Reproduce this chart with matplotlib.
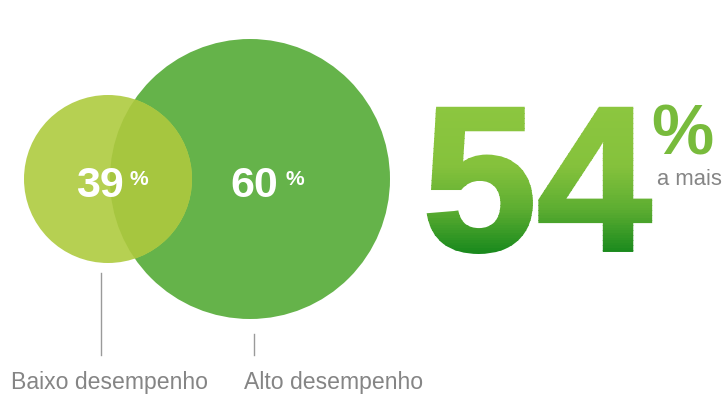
import numpy as np
import matplotlib
matplotlib.use("Agg")
import matplotlib.pyplot as plt
from matplotlib.patches import Circle, PathPatch, Rectangle
from matplotlib.textpath import TextPath
from matplotlib.font_manager import FontProperties
from matplotlib.colors import LinearSegmentedColormap
from matplotlib.transforms import Affine2D

# =========================
# DATA
# =========================
groups = ["Baixo desempenho", "Alto desempenho"]
shares = [39, 60]
difference = 54
diff_caption = "a mais"

# =========================
# STYLE
# =========================
W, H = 723, 406
FONT = "Liberation Sans"
COL_LOW = "#b6d052"
COL_HIGH = "#65b34a"
COL_OVERLAP = "#a6c63f"
COL_GRAY = "#858585"
COL_LINE = "#9a9a9a"


def px(v):
    # pixel size -> points (dpi 100)
    return v * 0.72


fig = plt.figure(figsize=(W / 100, H / 100), dpi=100)
ax = fig.add_axes([0, 0, 1, 1])
ax.set_xlim(0, W)
ax.set_ylim(H, 0)
ax.set_aspect("equal")
ax.axis("off")

# circles (centre x, centre y, radius) in pixels
circ_low = (108, 180, 84)
circ_high = (250, 180, 140)

ax.add_patch(Circle(circ_high[:2], circ_high[2], color=COL_HIGH, lw=0))
ax.add_patch(Circle(circ_low[:2], circ_low[2], color=COL_LOW, lw=0))

# overlap = small circle clipped by the big one
clip = Circle(circ_high[:2], circ_high[2], transform=ax.transData)
inter = Circle(circ_low[:2], circ_low[2], color=COL_OVERLAP, lw=0)
ax.add_patch(inter)
inter.set_clip_path(clip)

# values inside circles
for cx, pct_x, val in zip([100, 254], [129, 286], shares):
    ax.text(cx, 197, str(val), color="white", fontsize=px(43),
            fontweight="bold", family=FONT, ha="center", va="baseline")
    ax.text(pct_x, 185, "%", color="white", fontsize=px(21),
            fontweight="bold", family=FONT, ha="left", va="baseline")

# leader lines and labels
ax.plot([101, 101], [274, 356], color=COL_LINE, lw=1)
ax.plot([254, 254], [335, 356], color=COL_LINE, lw=1)
ax.text(11, 389, groups[0], color=COL_GRAY, fontsize=px(23), family=FONT,
        ha="left", va="baseline")
ax.text(244, 389, groups[1], color=COL_GRAY, fontsize=px(23), family=FONT,
        ha="left", va="baseline")

# =========================
# BIG GRADIENT NUMBER
# =========================
size = 206
stroke = 2.5  # points
fp = FontProperties(family=FONT, weight="bold")
tp = TextPath((0, 0), str(difference), size=size, prop=fp)
bb = tp.get_extents()
pad = stroke / 72 * 100 / 2
x0 = 427 + pad - bb.x0
base = 255 - pad + bb.y0

# real text underneath, gradient bands drawn over it
ax.text(x0, base, str(difference), color="#7fbe3a", fontsize=px(size),
        fontweight="bold", family=FONT, ha="left", va="baseline")

tr = Affine2D().scale(1, -1).translate(x0, base) + ax.transData
cmap = LinearSegmentedColormap.from_list(
    "g", [(0, "#8cc63f"), (0.4, "#85c23c"), (0.7, "#5cad31"), (1, "#17881c")])
top = base - bb.y1 - pad
bot = base - bb.y0 + pad
n = 60
edges = np.linspace(top - 1, bot + 1, n + 1)
for i in range(n):
    c = cmap(i / (n - 1))
    band = Rectangle((x0 - 20, edges[i]), 300, edges[i + 1] - edges[i] + 0.5,
                     transform=ax.transData)
    p = PathPatch(tp, transform=tr, facecolor=c, edgecolor=c, lw=stroke,
                  joinstyle="miter", zorder=3)
    ax.add_patch(p)
    p.set_clip_path(band)

ax.text(651, 155, "%", color="#78bb3c", fontsize=px(70), fontweight="bold",
        family=FONT, ha="left", va="baseline")
ax.text(657, 185, diff_caption, color=COL_GRAY, fontsize=px(22), family=FONT,
        ha="left", va="baseline", clip_on=False)

fig.savefig("out.png", dpi=100)
